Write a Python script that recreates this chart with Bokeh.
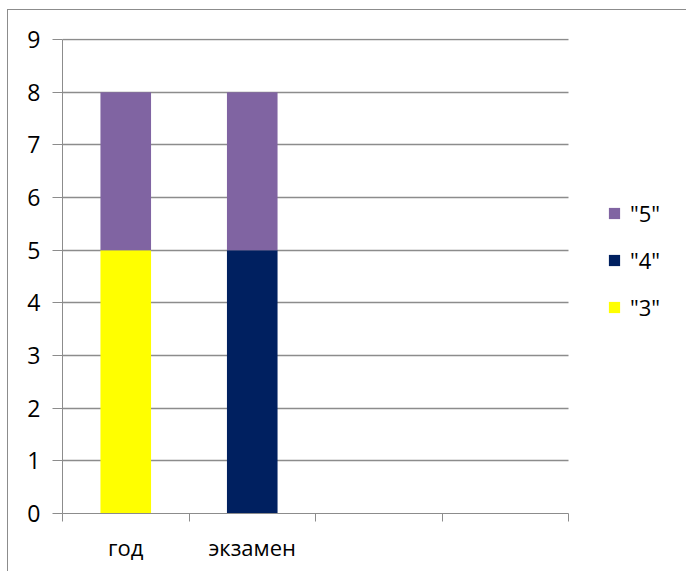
from bokeh.plotting import figure
from bokeh.models import Range1d, FixedTicker, ColumnDataSource, Legend, LegendItem
from bokeh.embed import file_html
from bokeh.resources import INLINE

categories = ["год", "экзамен", "", ""]
grade3 = [5, 0, 0, 0]
grade4 = [0, 5, 0, 0]
grade5 = [3, 3, 0, 0]
series_names = ['"3"', '"4"', '"5"']
series_colors = ["#FFFF00", "#002060", "#8064A2"]
y_ticks = [0, 1, 2, 3, 4, 5, 6, 7, 8, 9]

FONT = "Open Sans"
GRID = "#8c8c8c"

n_cat = len(categories)
xpos = [i + 0.5 for i in range(n_cat)]
src = ColumnDataSource(dict(x=xpos, s3=grade3, s4=grade4, s5=grade5))

# frame extends under the legend area; axis & grid are bounded to the categories
FRAME_W, PLOT_W = 625, 506
p = figure(width=679, height=562, output_backend="svg", toolbar_location=None,
           x_range=Range1d(0, n_cat * FRAME_W / PLOT_W),
           y_range=Range1d(0, max(y_ticks) + 0.02),
           min_border_left=54, min_border_right=0, min_border_top=28, min_border_bottom=59)
p.styles = {"margin-left": "7px", "margin-top": "9px",
            "border-top": "1px solid #8c8c8c", "border-left": "1px solid #8c8c8c"}
p.outline_line_color = None
p.background_fill_color = "white"
p.border_fill_color = "white"

renderers = p.vbar_stack(["s3", "s4", "s5"], x="x", width=0.4, source=src,
                         color=series_colors, line_color=None)

# y axis
p.yaxis.bounds = (0, max(y_ticks))
p.yaxis.ticker = FixedTicker(ticks=y_ticks)
p.yaxis.axis_line_color = GRID
p.yaxis.major_tick_line_color = GRID
p.yaxis.major_tick_out = 10
p.yaxis.major_tick_in = 0
p.yaxis.minor_tick_line_color = None
p.yaxis.major_label_text_font = FONT
p.yaxis.major_label_text_font_size = "23px"
p.yaxis.major_label_text_color = "black"
p.yaxis.major_label_standoff = 12

# x axis
p.xaxis.bounds = (0, n_cat)
p.xaxis.ticker = FixedTicker(ticks=xpos, minor_ticks=list(range(n_cat + 1)))
p.xaxis.major_label_overrides = {x: c for x, c in zip(xpos, categories)}
p.xaxis.axis_line_color = GRID
p.xaxis.major_tick_line_color = None
p.xaxis.major_tick_out = 8
p.xaxis.major_tick_in = 0
p.xaxis.minor_tick_line_color = GRID
p.xaxis.minor_tick_out = 8
p.xaxis.minor_tick_in = 0
p.xaxis.major_label_text_font = FONT
p.xaxis.major_label_text_font_size = "22px"
p.xaxis.major_label_text_color = "black"
p.xaxis.major_label_standoff = 10

p.xgrid.grid_line_color = None
p.ygrid.grid_line_color = GRID
p.ygrid.grid_line_width = 1.5
p.ygrid.ticker = FixedTicker(ticks=y_ticks)
p.ygrid.cross_bounds = (0, n_cat)

items = [LegendItem(label=n, renderers=[r]) for n, r in zip(series_names, renderers)]
items = items[::-1]
legend = Legend(items=items, location=(545, 191), orientation="vertical",
                glyph_width=14, glyph_height=14, label_text_font=FONT,
                label_text_font_size="22px", label_text_color="black",
                label_standoff=9, spacing=17,
                border_line_color=None, background_fill_alpha=0, padding=0, margin=0)
p.add_layout(legend)

open("out.html", "w").write(file_html(p, INLINE))
